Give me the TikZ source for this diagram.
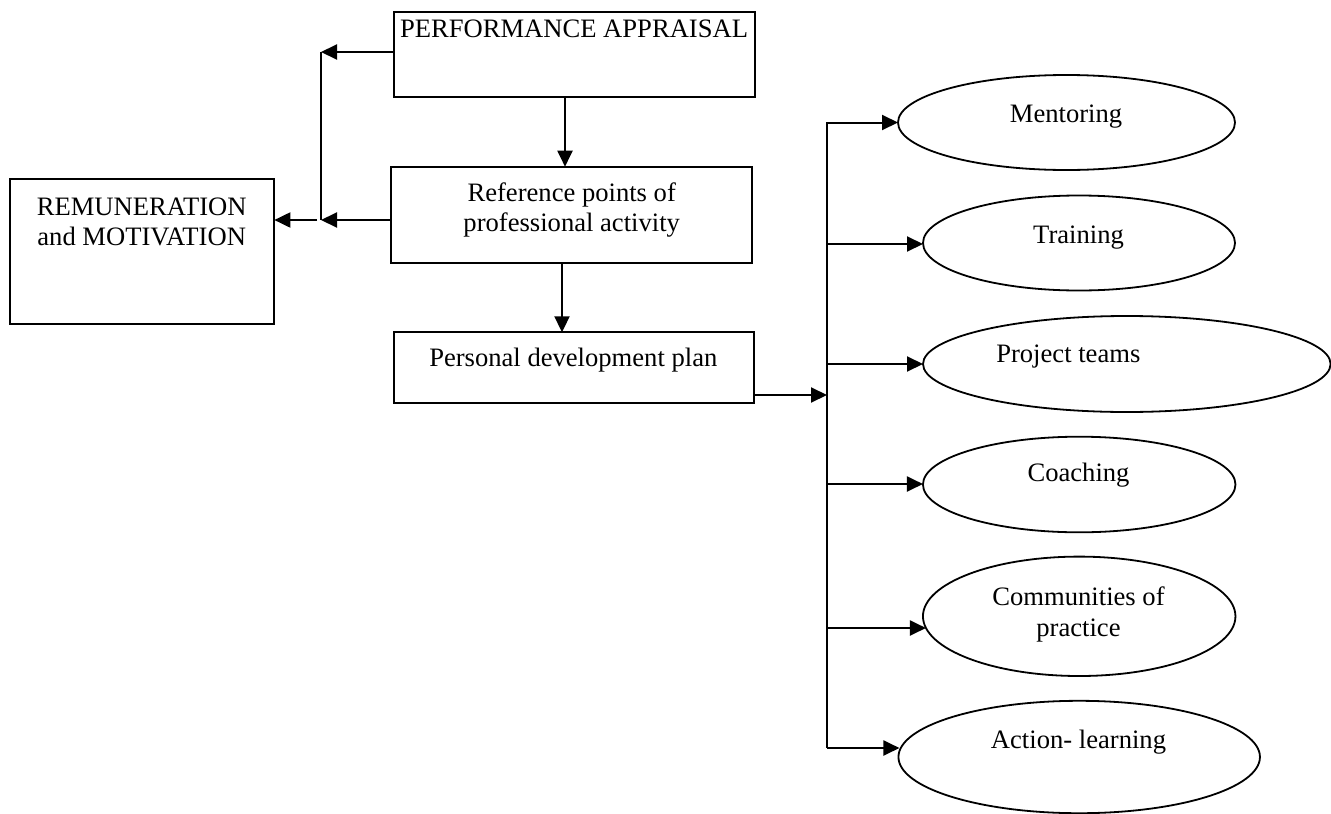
\documentclass[tikz,border=0pt]{standalone}
\usepackage{fontspec}
\setmainfont{Liberation Serif}
\usetikzlibrary{shapes.geometric,arrows.meta}
\begin{document}
\begin{tikzpicture}[x=1pt,y=-1pt,
  every node/.style={inner sep=0pt,outer sep=0pt},
  boxnode/.style={draw,line width=2pt,rectangle},
  ovalnode/.style={draw,line width=1.8pt,ellipse},
  lbl/.style={font=\fontsize{26.6}{30}\selectfont,anchor=base,align=center},
  conn/.style={line width=2pt},
  arr/.style={line width=2pt,-{Triangle[length=16pt,width=15pt]}}]
\useasboundingbox (0,0) rectangle (1331,814);
% boxes
\node[boxnode,minimum width=361pt,minimum height=85.6pt] (pa) at (574.2,54.5) {};
\node[boxnode,minimum width=361pt,minimum height=96pt] (ref) at (571.5,214.7) {};
\node[boxnode,minimum width=360.3pt,minimum height=71pt] (pdp) at (574.2,367.8) {};
\node[boxnode,minimum width=264.3pt,minimum height=144.7pt] (rem) at (142.2,251.7) {};
% box texts
\node[lbl,anchor=base west] (tpa) at (400,37.7) {PERFORMANCE APPRAISAL};
\node[lbl] (tref1) at (571.7,201.7) {Reference points of};
\node[lbl] (tref2) at (571.7,231.7) {professional activity};
\node[lbl] (tpdp) at (573.3,366.7) {Personal development plan};
\node[lbl] (trem1) at (141.7,215) {REMUNERATION};
\node[lbl] (trem2) at (141.7,245) {and MOTIVATION};
% ellipses
\node[ovalnode,minimum width=337pt,minimum height=95pt] (ment) at (1066.5,122.5) {};
\node[ovalnode,minimum width=312pt,minimum height=95pt] (train) at (1079,243) {};
\node[ovalnode,minimum width=407.6pt,minimum height=96pt] (proj) at (1126.8,364) {};
\node[ovalnode,minimum width=312.5pt,minimum height=95.6pt] (coach) at (1079.2,484.5) {};
\node[ovalnode,minimum width=312.5pt,minimum height=119.4pt] (comm) at (1079.2,616.3) {};
\node[ovalnode,minimum width=361.5pt,minimum height=112.4pt] (act) at (1079.2,757) {};
% ellipse texts
\node[lbl] (tment) at (1066,122.7) {Mentoring};
\node[lbl] (ttrain) at (1078.5,243.3) {Training};
\node[lbl] (tproj) at (1068.3,362.3) {Project teams};
\node[lbl] (tcoach) at (1078.5,481.7) {Coaching};
\node[lbl] (tcomm1) at (1078.5,605) {Communities of};
\node[lbl] (tcomm2) at (1078.5,636.7) {practice};
\node[lbl] (tact) at (1078.5,748.3) {Action- learning};
% left bus
\coordinate (lbtop) at (321,52);
\coordinate (lbbot) at (321,220);
\coordinate (lbstart) at (317,220);
\draw[arr] (pa.west |- lbtop) -- (lbtop);
\draw[conn] (lbtop) -- (lbbot);
\draw[arr] (ref.west |- lbbot) -- (lbbot);
\draw[arr] (lbstart) -- (lbstart -| rem.east);
% vertical arrows
\draw[arr] (565,97.3) -- (565,166.7);
\draw[arr] (562,262.7) -- (562,332.3);
% right bus
\coordinate (rbtop) at (827,122);
\coordinate (rbbot) at (827,748);
\coordinate (rbin) at (827,395);
\draw[conn] (rbtop) -- (rbbot);
\draw[arr] (pdp.east |- rbin) -- (rbin);
\coordinate (b1) at (827,122.5);
\coordinate (b2) at (827,244);
\coordinate (b3) at (827,364);
\coordinate (b4) at (827,484);
\coordinate (b5) at (827,628);
\coordinate (b6) at (827,748);
\draw[arr] (b1) -- (b1 -| ment.west);
\draw[arr] (b2) -- (b2 -| train.west);
\draw[arr] (b3) -- (b3 -| proj.west);
\draw[arr] (b4) -- (b4 -| coach.west);
\draw[arr] (b5) -- ([xshift=3pt]b5 -| comm.west);
\draw[arr] (b6) -- ([xshift=1pt]b6 -| act.west);
\end{tikzpicture}
\end{document}
